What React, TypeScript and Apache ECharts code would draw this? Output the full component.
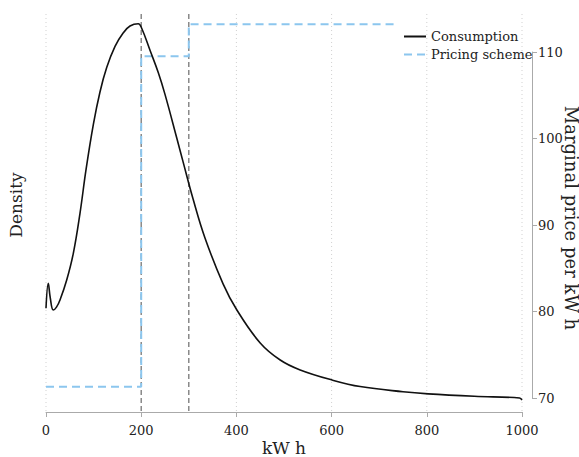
import React, { useEffect, useRef } from "react";
import * as echarts from "echarts";

// Consumption density (kWh, density)
const densityKwh = [0, 4.8, 9, 15.3, 22, 29.4, 43.5, 57.4, 71.4, 84, 99.4, 113.4, 127.5, 145, 162.4, 176.5, 193.9, 201, 218.5, 236, 250, 275, 288, 309, 334, 372, 401, 450, 492, 534, 601, 660, 750, 803, 900, 995, 1000];
const densityVal = [0.001137, 0.001426, 0.001256, 0.001117, 0.00115, 0.001233, 0.001464, 0.001773, 0.002235, 0.002736, 0.00326, 0.003638, 0.00392, 0.004165, 0.004322, 0.0044, 0.004426, 0.004374, 0.00412, 0.00386, 0.00361, 0.0031, 0.00283, 0.0024, 0.00195, 0.00142, 0.001117, 0.000736, 0.000539, 0.000424, 0.000308, 0.000232, 0.000172, 0.000148, 0.00012, 0.0001, 0.000077];

// Pricing scheme: breakpoints and levels
const priceBreaks = [0, 200, 300, 733];
const priceLevels = [71.3, 109.5, 113.2, 113.2];

// Reference thresholds and grid lines
const thresholds = [200, 300];
const gridXs = [0, 400, 600, 800, 1000];
const xTicks = [0, 200, 400, 600, 800, 1000];
const priceTicks = [70, 80, 90, 100, 110];

const FONT = "DejaVu Serif";

export default function App() {
  const ref = useRef<HTMLDivElement>(null);
  useEffect(() => {
    if (!ref.current) return;
    const chart = echarts.init(ref.current, undefined, { renderer: "svg" });
    const lowP = 68.5;
    const highP = 114.7;
    const vline = (x: number, color: string, type: any, width: number) => ({
      type: "line",
      yAxisIndex: 1,
      data: [[x, lowP], [x, highP]],
      showSymbol: false,
      symbol: "none",
      clip: false,
      silent: true,
      lineStyle: { color, type, width },
      z: 1,
    });
    chart.setOption({
      animation: false,
      grid: { left: 46, right: 57, top: 52, bottom: 59, outerBoundsMode: "none", containLabel: false },
      legend: {
        data: ["Consumption", "Pricing scheme"],
        orient: "vertical",
        left: 398,
        top: 25,
        itemWidth: 22,
        itemHeight: 10,
        itemGap: 5,
        itemStyle: { opacity: 0 },
        textStyle: { fontFamily: FONT, fontSize: 13, color: "#222" },
      },
      xAxis: {
        type: "value",
        min: xTicks[0],
        max: xTicks[xTicks.length - 1],
        interval: 200,
        offset: 14,
        name: "kW h",
        nameLocation: "middle",
        nameGap: 27,
        nameMoveOverlap: false,
        nameTextStyle: { fontFamily: FONT, fontSize: 17, color: "#222" },
        axisLine: { show: true, lineStyle: { color: "#aaa", width: 1 } },
        axisTick: { show: true, length: 5, lineStyle: { color: "#aaa" } },
        axisLabel: { fontFamily: FONT, fontSize: 13, color: "#222", margin: 12, formatter: (v: number) => String(v) },
        splitLine: { show: false },
      },
      yAxis: [
        {
          type: "value",
          position: "left",
          min: 0.0001,
          max: 0.0041,
          name: "Density",
          nameLocation: "middle",
          nameRotate: 90,
          nameGap: 22,
          nameMoveOverlap: false,
          nameTextStyle: { fontFamily: FONT, fontSize: 17, color: "#222", padding: [0, 0, 0, 40] },
          axisLine: { show: false },
          axisTick: { show: false },
          axisLabel: { show: false },
          splitLine: { show: false },
        },
        {
          type: "value",
          position: "right",
          min: priceTicks[0],
          max: priceTicks[priceTicks.length - 1],
          interval: 10,
          offset: 10,
          name: "Marginal price per kW h",
          nameLocation: "middle",
          nameRotate: -90,
          nameGap: 30,
          nameMoveOverlap: false,
          nameTextStyle: { fontFamily: FONT, fontSize: 18, color: "#222", padding: [0, 14, 0, 0] },
          axisLine: { show: true, lineStyle: { color: "#aaa", width: 1 } },
          axisTick: { show: true, length: 5, lineStyle: { color: "#aaa" } },
          axisLabel: { fontFamily: FONT, fontSize: 13, color: "#222", margin: 6 },
          splitLine: { show: false },
        },
      ],
      series: [
        ...gridXs.map((x) => vline(x, "#cfcfcf", [1, 3], 1)),
        ...thresholds.map((x) => vline(x, "#777", [5, 3], 1.3)),
        {
          name: "Pricing scheme",
          type: "line",
          yAxisIndex: 1,
          step: "end",
          data: priceBreaks.map((b, i) => [b, priceLevels[i]]),
          showSymbol: false,
          symbol: "none",
          clip: false,
          lineStyle: { color: "#8cc6ee", width: 2, type: [8, 5] },
          itemStyle: { color: "#8cc6ee" },
          z: 3,
        },
        {
          name: "Consumption",
          type: "line",
          yAxisIndex: 0,
          data: densityKwh.map((k, i) => [k, densityVal[i]]),
          smooth: 0.4,
          showSymbol: false,
          symbol: "none",
          clip: false,
          lineStyle: { color: "#111", width: 1.6 },
          itemStyle: { color: "#111" },
          z: 4,
        },
      ],
    });
    return () => chart.dispose();
  }, []);
  return (
    <div
      ref={ref}
      style={{ position: "fixed", left: 0, top: 0, width: 579, height: 457, background: "#fff" }}
    />
  );
}
